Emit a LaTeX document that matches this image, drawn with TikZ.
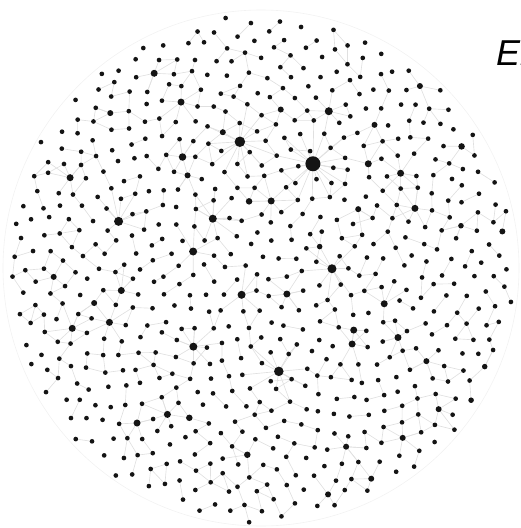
\documentclass[tikz,border=0pt]{standalone}
\usepackage{fontspec}
\setsansfont{Liberation Sans}
\pgfdeclarelayer{edges}
\pgfsetlayers{edges,main}

% stored place coordinates
\newcommand\ptx[1]{\csname ptx#1\endcsname}
\newcommand\pty[1]{\csname pty#1\endcsname}
% collected links and hubs
\newcommand\addlink[2]{\xdef\linklist{\unexpanded\expandafter{\linklist}\noexpand\draw[link] (p#1) -- (p#2);}}
\gdef\linklist{}
\gdef\hublist{}

\begin{document}
\begin{tikzpicture}[x=1pt,y=-1pt,
    dot/.style={circle,fill=black!92,inner sep=0pt,minimum size=4.7pt},
    hub/.style={circle,fill=black!92,inner sep=0pt,minimum size=#1},
    link/.style={black!12,line width=0.65pt}]
  \useasboundingbox (0,0) rectangle (521,528);
  \def\N{720} \def\R{252} \def\cx{261} \def\cy{268}
  \pgfmathsetseed{4242}

  % faint outline of the disc
  \draw[black!5,line width=0.6pt] (\cx,\cy) circle (258);

  % places on a sunflower spiral
  \foreach \i in {1,...,\N}{
    \pgfmathsetmacro\rr{\R*sqrt((\i-0.5)/\N)}
    \pgfmathsetmacro\tt{360*(\i*0.381966-floor(\i*0.381966))}
    \pgfmathsetmacro\xx{\cx+\rr*cos(\tt)+3*rand}
    \pgfmathsetmacro\yy{\cy+\rr*sin(\tt)+3*rand}
    \expandafter\xdef\csname ptx\i\endcsname{\xx}
    \expandafter\xdef\csname pty\i\endcsname{\yy}
    \node[dot] (p\i) at (\xx,\yy) {};
  }

  % short links between neighbours
  \foreach \i in {2,...,\N}{
    \foreach \k in {3,5,8,13,21,34,55,89}{
      \ifnum\k<\i
        \pgfmathtruncatemacro\j{\i-\k}
        \pgfmathsetmacro\dd{veclen(\ptx\i-\ptx\j,\pty\i-\pty\j)}
        \pgfmathtruncatemacro\ok{((\dd<21)&&(rnd<0.31))?1:0}
        \ifnum\ok=1 \addlink{\i}{\j}\fi
      \fi
    }
  }

  % hubs: x/y/size/reach/share
  \foreach \hx/\hy/\hs/\hd/\hq in {
    318/162/15/44/0.95, 238/151/10.5/40/0.9, 334/102/8/30/0.8,
    157/84/7/28/0.7, 185/104/7/28/0.7, 289/112/6/26/0.7,
    177/159/7.5/28/0.7, 192/168/6/24/0.6, 224/139/6/26/0.6,
    374/162/7/28/0.7, 460/157/6.5/26/0.7, 403/178/7/28/0.7,
    373/131/6/24/0.6, 430/73/6/26/0.6, 68/186/7/28/0.7,
    125/219/9/34/0.8, 119/120/6/24/0.6, 217/211/8/30/0.7,
    251/201/6.5/26/0.6, 268/206/7/28/0.7, 357/201/6/26/0.6,
    420/217/7/28/0.7, 507/235/6/24/0.6, 198/256/8/32/0.75,
    323/269/9/34/0.8, 320/253/5.5/22/0.5, 129/287/7/28/0.7,
    52/277/6/24/0.6, 94/294/6/24/0.6, 238/303/8/30/0.7,
    290/302/7/28/0.7, 393/310/7/28/0.7, 351/327/7/26/0.7,
    351/344/7/26/0.6, 402/339/7/26/0.6, 76/335/7/28/0.7,
    108/329/7/28/0.7, 186/345/8/32/0.75, 426/365/6/24/0.6,
    274/374/9.5/38/0.85, 168/408/7/28/0.7, 141/416/7/28/0.7,
    181/418/6.5/26/0.6, 438/414/6/26/0.6, 241/450/6.5/26/0.6,
    341/442/6/24/0.6, 394/432/6/24/0.6, 331/499/6/24/0.6,
    367/470/6/24/0.6, 488/363/5.5/22/0.5, 469/392/5.5/22/0.5,
    465/228/5.5/22/0.5}{
    \pgfmathsetmacro\hr{veclen(\hx-\cx,\hy-\cy)}
    \pgfmathtruncatemacro\ja{max(1,\N*(max(0,\hr-\hd-8)/\R)^2)}
    \pgfmathtruncatemacro\jb{min(\N,\N*((\hr+\hd+8)/\R)^2+1)}
    \gdef\best{1}\gdef\bestd{999}
    % nearest place becomes the hub
    \foreach \j in {\ja,...,\jb}{
      \pgfmathsetmacro\dd{veclen(\ptx\j-\hx,\pty\j-\hy)}
      \ifdim\dd pt<\bestd pt \xdef\best{\j}\xdef\bestd{\dd}\fi
    }
    \foreach \j in {\ja,...,\jb}{
      \ifnum\j=\best\else
        \pgfmathsetmacro\dd{veclen(\ptx\j-\ptx\best,\pty\j-\pty\best)}
        \pgfmathtruncatemacro\ok{((\dd<\hd)&&(rnd<\hq))?1:0}
        \ifnum\ok=1 \addlink{\best}{\j}\fi
      \fi
    }
    \xdef\hublist{\unexpanded\expandafter{\hublist}%
      \noexpand\node[hub=\hs pt] (h\best) at (p\best) {};}
  }

  \begin{pgfonlayer}{edges}\linklist\end{pgfonlayer}
  \hublist

  % caption, cut by the page edge
  \node[anchor=base west,inner sep=0pt,font=\sffamily\itshape\fontsize{36}{40}\selectfont]
    (title) at (496,65) {El};
\end{tikzpicture}
\end{document}
